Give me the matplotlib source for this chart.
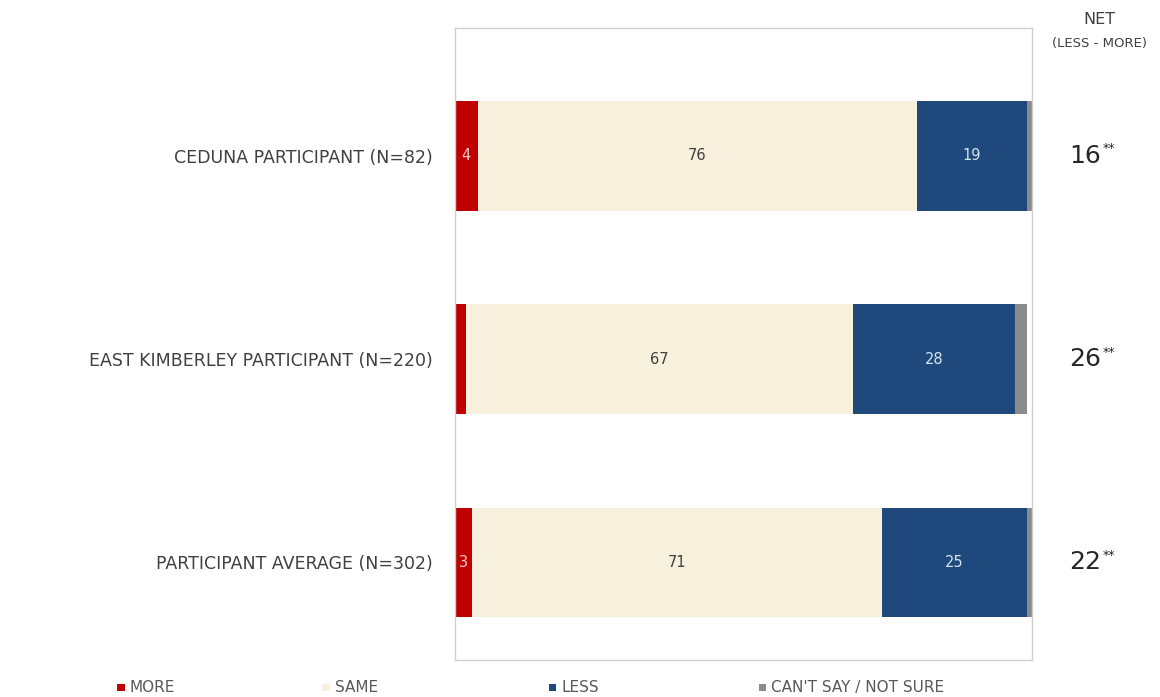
import matplotlib.pyplot as plt
from matplotlib.patches import Rectangle

categories = ["CEDUNA PARTICIPANT (N=82)",
              "EAST KIMBERLEY PARTICIPANT (N=220)",
              "PARTICIPANT AVERAGE (N=302)"]
more = [4, 2, 3]
same = [76, 67, 71]
less = [19, 28, 25]
cant_say = [1, 2, 1]
net = [16, 26, 22]

series_names = ["MORE", "SAME", "LESS", "CAN'T SAY / NOT SURE"]
colors = ["#C00000", "#F6F0DC", "#1F497D", "#8C8C8C"]
label_colors = ["#F4CCCC", "#404040", "#D6E2F0", None]
show_label = [[True, False, True], [True, True, True], [True, True, True], [False, False, False]]

fig = plt.figure(figsize=(11.6, 6.97), dpi=100)
ax = fig.add_axes([0.392, 0.053, 0.498, 0.907])

data = [more, same, less, cant_say]
y = list(range(len(categories)))
left = [0] * len(categories)
for s, vals in enumerate(data):
    ax.barh(y, vals, left=left, height=0.54, color=colors[s], edgecolor="none")
    for i, v in enumerate(vals):
        if show_label[s][i]:
            ax.text(left[i] + v / 2, i, str(v), ha="center", va="center",
                    fontsize=10.5, color=label_colors[s])
    left = [l + v for l, v in zip(left, vals)]

ax.set_xlim(0, 100)
ax.set_ylim(2.48, -0.63)
ax.set_xticks([])
ax.set_yticks(y)
ax.set_yticklabels(categories, fontsize=12.5, color="#404040")
ax.tick_params(axis="y", length=0, pad=16)
for sp in ax.spines.values():
    sp.set_color("#D0D0D0")
    sp.set_linewidth(1)

# net column
for i, n in enumerate(net):
    ax.annotate(str(n), xy=(1, i), xycoords=("axes fraction", "data"),
                xytext=(38, 0), textcoords="offset points",
                ha="center", va="center", fontsize=18, color="#262626")
    ax.annotate("**", xy=(1, i), xycoords=("axes fraction", "data"),
                xytext=(55, 5), textcoords="offset points",
                ha="center", va="center", fontsize=9, color="#262626")
fig.text(0.948, 0.972, "NET", ha="center", va="center", fontsize=11.5, color="#404040")
fig.text(0.948, 0.937, "(LESS - MORE)", ha="center", va="center", fontsize=9.5, color="#404040")

# legend
leg_x = [0.101, 0.278, 0.473, 0.654]
for x, name, c in zip(leg_x, series_names, colors):
    fig.patches.append(Rectangle((x, 0.008), 0.0065, 0.011, transform=fig.transFigure,
                                 facecolor=c, edgecolor="none"))
    fig.text(x + 0.011, 0.013, name, ha="left", va="center", fontsize=11, color="#595959")

fig.savefig("out.png", dpi=100)
